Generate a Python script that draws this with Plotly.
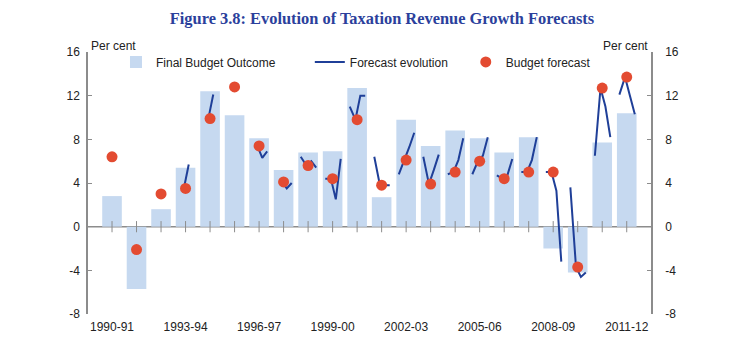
import plotly.graph_objects as go

# ---------------- data ----------------
years = ['1990-91', '1991-92', '1992-93', '1993-94', '1994-95', '1995-96', '1996-97',
         '1997-98', '1998-99', '1999-00', '2000-01', '2001-02', '2002-03', '2003-04',
         '2004-05', '2005-06', '2006-07', '2007-08', '2008-09', '2009-10', '2010-11',
         '2011-12']
tick_labels = ['1990-91', '1993-94', '1996-97', '1999-00', '2002-03', '2005-06',
               '2008-09', '2011-12']
y_ticks = [-8, -4, 0, 4, 8, 12, 16]
y_tick_text = ['-8', '-4', '0', '4', '8', '12', '16']

final_outcome = [2.8, -5.7, 1.6, 5.4, 12.4, 10.2, 8.1, 5.2, 6.8, 6.9, 12.7, 2.7,
                 9.8, 7.4, 8.8, 8.1, 6.8, 8.2, -2.0, -4.2, 7.7, 10.4]
budget_forecast = [6.4, -2.1, 3.0, 3.5, 9.9, 12.8, 7.4, 4.1, 5.6, 4.4, 9.8, 3.8,
                   6.1, 3.9, 5.0, 6.0, 4.4, 5.0, 5.0, -3.7, 12.7, 13.7]
# forecast evolution: estimate before budget, budget, mid-year update, final update
evo_pre = [None, None, None, None, None, None, None, None, 6.4, 4.4, 11.0, 6.4,
           4.8, 6.4, 4.8, 4.8, 4.7, 5.0, 5.0, 3.6, 6.5, 12.1]
evo_mid = [None, None, None, 5.7, 12.1, None, 6.3, 3.5, 6.0, 2.5, 12.0, 3.8,
           7.3, 5.2, 6.1, 6.5, 4.7, 6.1, 3.3, -4.6, 11.0, 12.0]
evo_late = [None, None, None, None, None, None, 6.9, 4.0, 5.4, 6.2, 12.0, 3.8,
            8.6, 6.6, 8.1, 8.2, 6.2, 8.2, -3.2, -4.2, 8.2, 10.3]

# ---------------- styles ----------------
BAR_COL = '#C6D9F0'
LINE_COL = '#1F3F98'
DOT_COL = '#E34B31'
AXIS_COL = '#8C8C8C'
TXT_COL = '#222222'
FONT = 'Liberation Sans, Arial, sans-serif'
stage_offsets = [-0.3, -0.07, 0.13, 0.33]

idx = list(range(len(years)))

# build forecast evolution polyline
lx, ly = [], []
for i in idx:
    stages = [evo_pre[i], budget_forecast[i], evo_mid[i], evo_late[i]]
    for off, v in zip(stage_offsets, stages):
        lx.append(i + off)
        ly.append(v)
    lx.append(None)
    ly.append(None)

fig = go.Figure()
fig.add_trace(go.Bar(x=idx, y=final_outcome, width=0.8, name='Final Budget Outcome',
                     marker=dict(color=BAR_COL, line=dict(width=0)),
                     hoverinfo='skip', legend='legend'))
fig.add_trace(go.Scatter(x=lx, y=ly, mode='lines', name='Forecast evolution',
                         line=dict(color=LINE_COL, width=2), connectgaps=False,
                         hoverinfo='skip', legend='legend2'))
fig.add_trace(go.Scatter(x=idx, y=budget_forecast, mode='markers', name='Budget forecast',
                         marker=dict(color=DOT_COL, size=11, line=dict(width=0)),
                         hoverinfo='skip', legend='legend3'))
# category tick marks crossing the zero line
fig.add_trace(go.Scatter(x=idx, y=[0] * len(idx), mode='markers', yaxis='y2',
                         marker=dict(symbol='line-ns', size=8,
                                     line=dict(color=AXIS_COL, width=1)),
                         showlegend=False, hoverinfo='skip'))

yax = dict(range=[-8, 16], tickmode='array', tickvals=y_ticks, ticktext=y_tick_text,
           showgrid=False, showline=True, linecolor=AXIS_COL,
           linewidth=1.5, ticks='inside', ticklen=4, tickcolor=AXIS_COL, tickwidth=1,
           tickfont=dict(family=FONT, size=12, color=TXT_COL), zeroline=False,
           fixedrange=True)

leg = dict(orientation='h', xanchor='left', y=0.962, yanchor='middle',
           bgcolor='rgba(0,0,0,0)', font=dict(family=FONT, size=12, color=TXT_COL))

fig.update_layout(
    width=754, height=362,
    margin=dict(l=80, r=111, t=44, b=56),
    paper_bgcolor='white', plot_bgcolor='white',
    barmode='overlay',
    title=dict(text='<b>Figure 3.8: Evolution of Taxation Revenue Growth Forecasts</b>',
               x=0.496, xanchor='center', y=0.972, yanchor='middle',
               font=dict(family='Liberation Serif, Times New Roman, serif', size=16.4,
                         color='#2B3F9C')),
    xaxis=dict(range=[-0.98, 21.99], tickmode='array',
               tickvals=[years.index(t) for t in tick_labels], ticktext=tick_labels,
               showgrid=False, showline=False, zeroline=False, ticks='',
               ticklabelstandoff=4,
               tickfont=dict(family=FONT, size=12, color=TXT_COL)),
    yaxis=dict(side='left', ticklabelstandoff=4, **yax),
    yaxis2=dict(side='right', overlaying='y', ticklabelstandoff=10, **yax),
    showlegend=True,
    legend=dict(x=0.0497, **leg),
    legend2=dict(x=0.394, **leg),
    legend3=dict(x=0.671, **leg),
)
# zero line
fig.add_hline(y=0, line=dict(color=AXIS_COL, width=1.5), layer='below')

fig.add_annotation(text='Per cent', xref='paper', yref='paper', x=0, y=1,
                   xanchor='left', yanchor='bottom', showarrow=False, xshift=1, yshift=-3,
                   font=dict(family=FONT, size=12, color=TXT_COL))
fig.add_annotation(text='Per cent', xref='paper', yref='paper', x=1, y=1,
                   xanchor='right', yanchor='bottom', showarrow=False, xshift=-1, yshift=-3,
                   font=dict(family=FONT, size=12, color=TXT_COL))

fig.write_html('out.html')
